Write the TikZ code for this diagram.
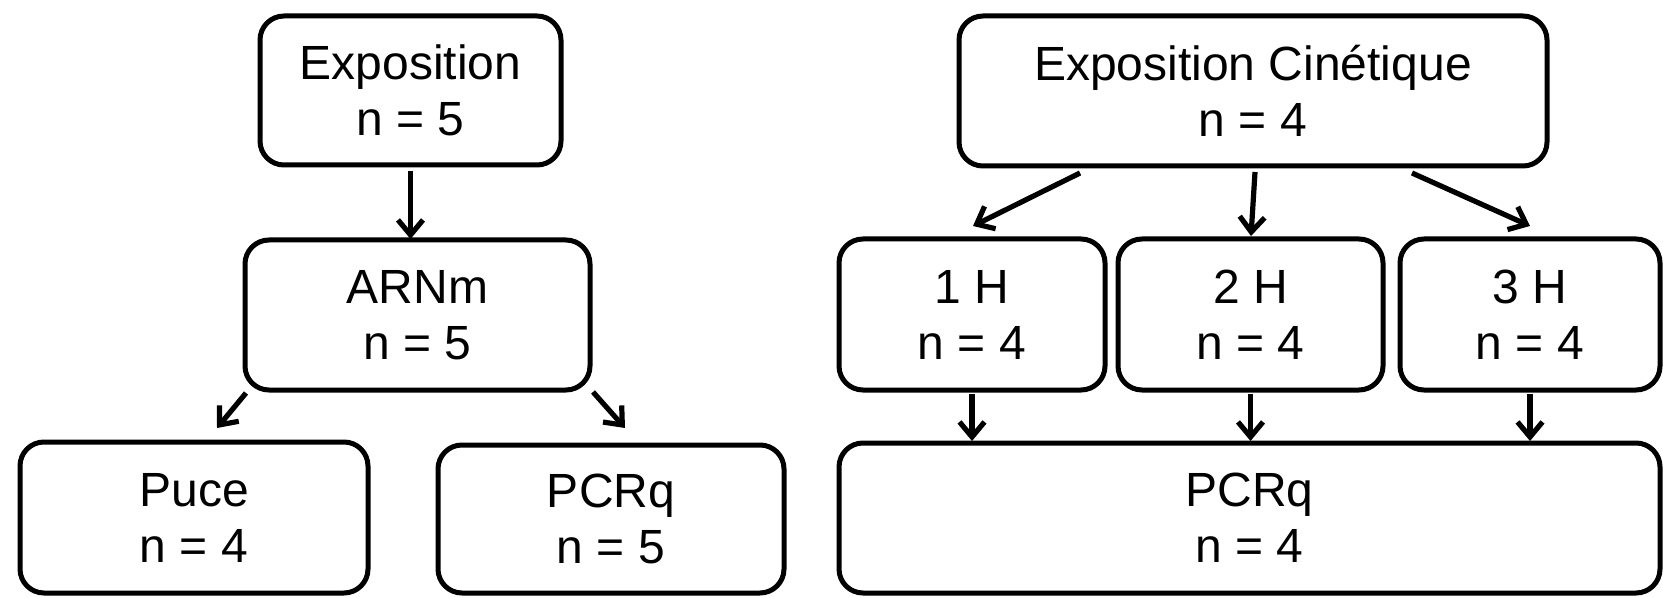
\documentclass[tikz,border=0pt]{standalone}
\usepackage{fontspec}
\setmainfont{Liberation Sans}
\usetikzlibrary{arrows.meta,calc}
\begin{document}
\begin{tikzpicture}[x=0.5pt,y=-0.5pt,
  box/.style 2 args={draw=black, line width=2.5pt, rounded corners=12pt,
    minimum width=#1*0.5pt, minimum height=#2*0.5pt, inner sep=0pt, outer sep=0pt,
    align=center, font=\fontsize{24pt}{28pt}\selectfont},
  arr/.style={line width=2.6pt, -{Straight Barb[length=7.5pt,width=12.5pt,line width=2.6pt]}}]
\useasboundingbox (0,0) rectangle (1663,598);

% left tree
\node[box={301}{149}] (expo) at (410.5,90.5) {Exposition\\n = 5};
\node[box={345}{150}] (arnm) at (417.5,315) {ARNm\\n = 5};
\node[box={348}{151}] (puce) at (194,517.5) {Puce\\n = 4};
\node[box={346}{148}] (pcrL) at (611,519) {PCRq\\n = 5};

\draw[arr] ($(expo.south)+(0,6)$) -- ($(expo.south |- arnm.north)+(0,-1)$);
\draw[arr] ($(arnm.south west)+(1,3)$) -- ($(puce.north)+(23,-14)$);
\draw[arr] ($(arnm.south east)+(3,2)$) -- ($(pcrL.north)+(14,-17)$);

% right tree
\node[box={588}{150}] (expoC) at (1253,91) {Exposition Cinétique\\n = 4};
\node[box={266}{151}] (h1) at (972,314.5) {1 H\\n = 4};
\node[box={265}{151}] (h2) at (1250.5,314.5) {2 H\\n = 4};
\node[box={260}{151}] (h3) at (1530,314.5) {3 H\\n = 4};
\node[box={821}{150}] (pcrR) at (1249.5,518) {PCRq\\n = 4};

\draw[arr] ($(expoC.south)+(-173,7)$) -- ($(h1.north)+(1,-13)$);
\draw[arr] ($(expoC.south)+(2,6)$) -- ($(h2.north)+(0.5,-3)$);
\draw[arr] ($(expoC.south)+(159,7)$) -- ($(h3.north)+(0,-13)$);

\draw[arr] ($(h1.south)+(0,4)$) -- ($(h1.south |- pcrR.north)+(0,-2)$);
\draw[arr] ($(h2.south)+(0,4)$) -- ($(h2.south |- pcrR.north)+(0,-2)$);
\draw[arr] ($(h3.south)+(0,4)$) -- ($(h3.south |- pcrR.north)+(0,-2)$);
\end{tikzpicture}
\end{document}
